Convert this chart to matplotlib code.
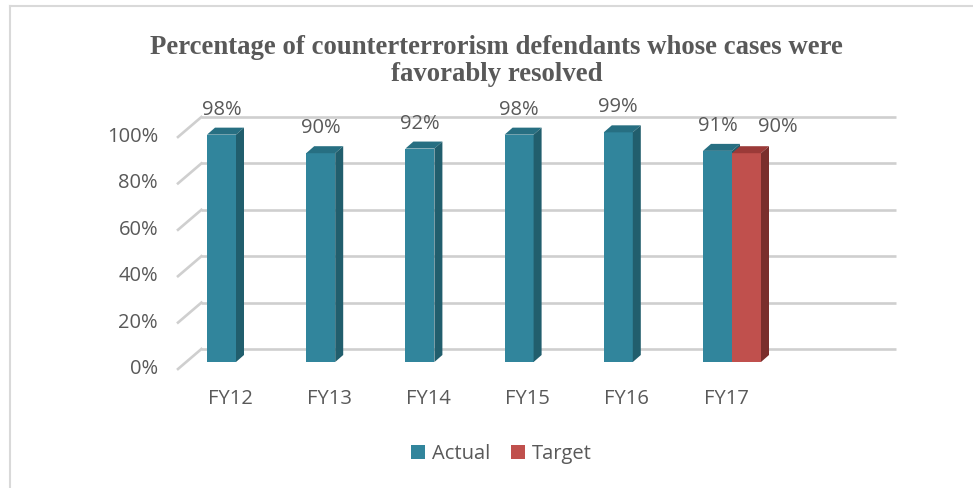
import matplotlib
matplotlib.use('Agg')
import matplotlib.pyplot as plt
from matplotlib.patches import Polygon, Patch
from matplotlib.lines import Line2D
from matplotlib.transforms import offset_copy
import numpy as np

# ---------------- data ----------------
categories = ['FY12', 'FY13', 'FY14', 'FY15', 'FY16', 'FY17']
actual = [98, 90, 92, 98, 99, 91]
target = [np.nan, np.nan, np.nan, np.nan, np.nan, 90]
series_names = ['Actual', 'Target']
yticks = [0, 20, 40, 60, 80, 100]
ytick_labels = ['0%', '20%', '40%', '60%', '80%', '100%']
title = 'Percentage of counterterrorism defendants whose cases were\nfavorably resolved'

# ---------------- style ----------------
plt.rcParams['font.family'] = ['Open Sans', 'DejaVu Sans']
TXT = '#595959'
TEAL_F, TEAL_S, TEAL_T = '#31859C', '#215E6D', '#276F82'
RED_F, RED_S, RED_T = '#C0504D', '#7A2E2C', '#9B3A38'
GRID = '#cfcfcf'
FS = 14.5

W, H, DPI = 973, 488, 100
fig = plt.figure(figsize=(W / DPI, H / DPI), dpi=DPI)
fig.patch.set_facecolor('white')

AX_L, AX_B, AX_W, AX_H = 186.4, 126, 694.4, 232
ax = fig.add_axes([AX_L / W, AX_B / H, AX_W / W, AX_H / H])
XMIN, XMAX = -0.5, len(categories) + 0.5
ax.set_xlim(XMIN, XMAX)
ax.set_ylim(0, 100)
ax.axis('off')

PX_X = AX_W / (XMAX - XMIN)
PX_Y = AX_H / 100.0


def dxd(px):
    return px / PX_X


def dyd(px):
    return px / PX_Y


# depth offsets (pixels)
BACK = (15, 13)     # back wall relative to bar front plane
FRONT = (-8.4, -7)  # floor front edge relative to bar front plane
DEPTH = (8, 7)      # bar depth

# gridlines on back wall + diagonal floor/side lines
for v in yticks:
    yb = v + dyd(BACK[1])
    ax.plot([XMIN + dxd(BACK[0]), XMAX + dxd(BACK[0])], [yb, yb],
            color=GRID, lw=1.9, zorder=1, clip_on=False, solid_capstyle='butt')
    ax.plot([XMIN + dxd(FRONT[0]), XMIN + dxd(BACK[0])],
            [v + dyd(FRONT[1]), yb],
            color=GRID, lw=1.9, zorder=1, clip_on=False)

idx = np.arange(len(categories))
w = 29 / PX_X


def draw_series(xl, vals, cf, cs, ct):
    ax.bar(xl, vals, width=w, align='edge', color=cf, zorder=3,
           edgecolor=cf, linewidth=0)
    ddx, ddy = dxd(DEPTH[0]), dyd(DEPTH[1])
    for x0, v in zip(xl, vals):
        if np.isnan(v):
            continue
        x1 = x0 + w
        top = Polygon([(x0, v), (x1, v), (x1 + ddx, v + ddy), (x0 + ddx, v + ddy)],
                      closed=True, facecolor=ct, edgecolor='none', zorder=3,
                      clip_on=False)
        side = Polygon([(x1, 0), (x1, v), (x1 + ddx, v + ddy), (x1 + ddx, ddy)],
                       closed=True, facecolor=cs, edgecolor='none', zorder=3,
                       clip_on=False)
        ax.add_patch(top)
        ax.add_patch(side)


draw_series(idx - w, np.array(actual, float), TEAL_F, TEAL_S, TEAL_T)
draw_series(idx.astype(float), np.array(target, float), RED_F, RED_S, RED_T)

# data labels
tr_a = offset_copy(ax.transData, fig=fig, x=0, y=25, units='dots')
for i, v in enumerate(actual):
    ax.text(i - w / 2, v, f'{v}%', transform=tr_a, ha='center', va='center',
            fontsize=FS, color=TXT, clip_on=False)
tr_t = offset_copy(ax.transData, fig=fig, x=31.5, y=26, units='dots')
for i, v in enumerate(target):
    if np.isnan(v):
        continue
    ax.text(i + w / 2, v, f'{v:.0f}%', transform=tr_t, ha='center', va='center',
            fontsize=FS, color=TXT, clip_on=False)

# y tick labels (front plane)
tr_y = offset_copy(ax.transData, fig=fig, x=-28.4, y=-7, units='dots')
for v, lab in zip(yticks, ytick_labels):
    ax.text(XMIN, v, lab, transform=tr_y, ha='right', va='center',
            fontsize=FS, color=TXT, clip_on=False)

# category labels
tr_x = offset_copy(ax.transData, fig=fig, x=-6, y=-37, units='dots')
for i, c in enumerate(categories):
    ax.text(i, 0, c, transform=tr_x, ha='center', va='center',
            fontsize=FS, color=TXT, clip_on=False)

# title
fig.text(496.5 / W, 1 - 61 / H, title, ha='center', va='center',
         multialignment='center', fontsize=19.3, fontweight='bold',
         family=['Liberation Serif', 'DejaVu Serif'], color=TXT, linespacing=1.12)

# legend
handles = [Patch(facecolor=TEAL_F, label=series_names[0]),
           Patch(facecolor=RED_F, label=series_names[1])]
fig.legend(handles=handles, loc='center', bbox_to_anchor=(501.5 / W, 34 / H),
           ncol=2, frameon=False, fontsize=FS, handlelength=0.7, handleheight=0.7,
           handletextpad=0.35, columnspacing=1.0, labelcolor=TXT)

# outer frame (left and top edges visible)
fig.add_artist(Line2D([10 / W, 10 / W], [0, 1 - 6 / H], color='#d9d9d9', lw=1.5,
                      transform=fig.transFigure))
fig.add_artist(Line2D([10 / W, 1], [1 - 6 / H, 1 - 6 / H], color='#d9d9d9', lw=1.5,
                      transform=fig.transFigure))

fig.savefig('out.png', dpi=DPI, facecolor='white')
